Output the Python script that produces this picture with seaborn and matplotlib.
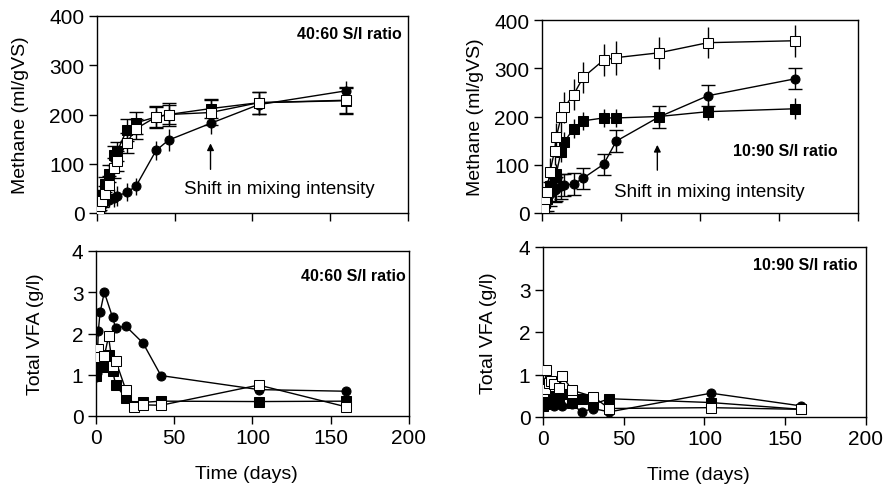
import matplotlib
matplotlib.use("Agg")
import matplotlib.pyplot as plt
import seaborn as sns

# methane yield, 40:60 S/I ratio
t_meth_a = [0, 1, 2, 3, 5, 8, 11, 13, 19, 25, 38, 46, 73, 104, 160]
meth_a_circle = [2, 6, 12, 18, 22, 27, 31, 34, 42, 54, 127, 148, 182, 220, 248]
meth_a_fsq = [2, 9, 22, 35, 58, 80, 117, 125, 168, 183, 195, 200, 212, 224, 228]
meth_a_osq = [2, 6, 15, 25, 39, 57, 92, 105, 142, 171, 195, 200, 204, 224, 229]
err_a_circle = [3, 5, 8, 10, 12, 15, 18, 20, 18, 18, 20, 22, 22, 22, 20]
err_a_fsq = [3, 5, 8, 12, 15, 18, 20, 20, 22, 22, 20, 20, 20, 22, 25]
err_a_osq = [3, 5, 8, 12, 15, 18, 20, 20, 20, 20, 22, 23, 25, 22, 27]

# methane yield, 10:90 S/I ratio
t_meth_b = [0, 1, 2, 3, 5, 8, 9, 12, 14, 20, 26, 39, 47, 74, 105, 160]
meth_b_circle = [1, 6, 15, 25, 40, 48, 50, 55, 58, 60, 72, 101, 149, 199, 243, 278]
meth_b_fsq = [1, 8, 20, 30, 55, 75, 81, 126, 147, 175, 191, 197, 197, 200, 210, 216]
meth_b_osq = [2, 10, 28, 43, 85, 129, 157, 198, 219, 245, 281, 317, 322, 332, 353, 357]
err_b_circle = [3, 8, 15, 20, 25, 25, 25, 25, 22, 22, 22, 22, 22, 22, 22, 22]
err_b_fsq = [3, 8, 15, 20, 20, 20, 20, 20, 20, 20, 18, 18, 18, 18, 18, 22]
err_b_osq = [3, 10, 20, 25, 30, 30, 30, 32, 32, 32, 32, 33, 35, 33, 32, 33]

# total VFA, 40:60 S/I ratio
t_vfa_a_circle = [0, 0.5, 1.5, 2.6, 5.3, 10.6, 12.6, 19, 30, 41.5, 104, 160]
vfa_a_circle = [0.95, 1.05, 2.07, 2.51, 3.0, 2.39, 2.13, 2.18, 1.77, 0.98, 0.64, 0.60]
t_vfa_a_fsq = [0, 1.5, 5.3, 8, 10.6, 12.6, 19, 24.5, 30, 41.5, 104, 160]
vfa_a_fsq = [0.98, 1.2, 1.18, 1.48, 1.1, 0.75, 0.44, 0.24, 0.33, 0.36, 0.35, 0.36]
t_vfa_a_osq = [0, 1.1, 2.6, 5.3, 8, 10.6, 12.6, 19, 24.5, 30, 41.5, 104, 160]
vfa_a_osq = [1.59, 1.62, 1.42, 1.45, 1.93, 1.22, 1.34, 0.64, 0.23, 0.27, 0.26, 0.75, 0.22]

# total VFA, 10:90 S/I ratio
t_vfa_b_osq = [0, 1, 2, 3.5, 5, 7, 10, 12, 18, 31, 41, 104, 160]
vfa_b_osq = [0.6, 0.65, 1.1, 0.8, 0.85, 0.77, 0.68, 0.97, 0.63, 0.48, 0.2, 0.22, 0.18]
t_vfa_b = [0, 1, 2, 5, 7, 10, 12, 18, 24, 31, 41, 104, 160]
vfa_b_fsq = [0.26, 0.3, 0.5, 0.45, 0.5, 0.45, 0.54, 0.34, 0.43, 0.3, 0.43, 0.34, 0.18]
vfa_b_circle = [0.54, 0.34, 0.45, 0.3, 0.26, 0.3, 0.26, 0.3, 0.12, 0.2, 0.12, 0.56, 0.26]

sns.set_style("ticks")
plt.rcParams['font.family'] = ['Liberation Sans', 'DejaVu Sans']
plt.rcParams['text.color'] = 'black'
plt.rcParams['axes.labelcolor'] = 'black'

W, H = 887, 485
fig = plt.figure(figsize=(W / 100, H / 100), dpi=100)


def box(l, t, r, b):
    return [l / W, (H - b) / H, (r - l) / W, (b - t) / H]


ax_tl = fig.add_axes(box(97, 17, 408, 214))
ax_tr = fig.add_axes(box(542, 21, 858, 214))
ax_bl = fig.add_axes(box(96, 252, 409, 417))
ax_br = fig.add_axes(box(543, 248, 866, 418))

circle = dict(marker='o', color='black', markerfacecolor='black', markeredgecolor='black', markersize=6.5)
fsq = dict(marker='s', color='black', markerfacecolor='black', markeredgecolor='black', markersize=6.5)
osq = dict(marker='s', color='black', markerfacecolor='white', markeredgecolor='black', markersize=7)


def series(ax, x, y, style, err=None, cap=0):
    if err is not None:
        ax.errorbar(x, y, yerr=err, fmt='none', ecolor='black', elinewidth=1, capsize=cap, capthick=1, zorder=2)
    sns.lineplot(x=x, y=y, ax=ax, linewidth=1, zorder=3, **style)


# top left
series(ax_tl, t_meth_a, meth_a_circle, circle, err_a_circle, 0)
series(ax_tl, t_meth_a, meth_a_fsq, fsq, err_a_fsq, 5)
series(ax_tl, t_meth_a, meth_a_osq, osq, err_a_osq, 5)
# top right
series(ax_tr, t_meth_b, meth_b_circle, circle, err_b_circle, 5)
series(ax_tr, t_meth_b, meth_b_fsq, fsq, err_b_fsq, 0)
series(ax_tr, t_meth_b, meth_b_osq, osq, err_b_osq, 0)
# bottom left
series(ax_bl, t_vfa_a_circle, vfa_a_circle, circle)
series(ax_bl, t_vfa_a_fsq, vfa_a_fsq, fsq)
series(ax_bl, t_vfa_a_osq, vfa_a_osq, osq)
# bottom right
series(ax_br, t_vfa_b, vfa_b_circle, circle)
series(ax_br, t_vfa_b, vfa_b_fsq, fsq)
series(ax_br, t_vfa_b_osq, vfa_b_osq, osq)

for ax in [ax_tl, ax_tr, ax_bl, ax_br]:
    ax.set_xlim(0, 200)
    ax.set_xticks([0, 50, 100, 150, 200])
    for s in ax.spines.values():
        s.set_visible(True)
        s.set_linewidth(1)
        s.set_color('black')
    ax.tick_params(direction='out', length=6, width=1, labelsize=15, colors='black', pad=3)
    ax.set_xlabel('')
    ax.set_ylabel('')

for ax in [ax_tl, ax_tr]:
    ax.set_ylim(0, 400)
    ax.set_yticks([0, 100, 200, 300, 400])
    ax.set_xticklabels([])
    ax.set_ylabel('Methane (ml/gVS)', fontsize=14)
    ax.annotate('', xy=(73, 147), xytext=(73, 83),
                arrowprops=dict(arrowstyle='-|>', color='black', lw=1, mutation_scale=10))

for ax in [ax_bl, ax_br]:
    ax.set_ylim(0, 4)
    ax.set_yticks([0, 1, 2, 3, 4])
    ax.set_ylabel('Total VFA (g/l)', fontsize=14)
    ax.set_xlabel('Time (days)', fontsize=14)

ax_tl.yaxis.set_label_coords(-0.219, 0.5)
ax_tr.yaxis.set_label_coords(-0.184, 0.5)
ax_bl.yaxis.set_label_coords(-0.166, 0.5)
ax_br.yaxis.set_label_coords(-0.142, 0.5)
ax_bl.xaxis.set_label_coords(0.48, -0.30)
ax_br.xaxis.set_label_coords(0.48, -0.29)

ax_tl.text(117, 49, 'Shift in mixing intensity', fontsize=13.5, ha='center', va='center')
ax_tr.text(105.6, 45, 'Shift in mixing intensity', fontsize=13.5, ha='center', va='center')

ax_tl.text(196, 365, '40:60 S/I ratio', fontsize=11.5, fontweight='bold', ha='right', va='center')
ax_tr.text(187, 129, '10:90 S/I ratio', fontsize=11.5, fontweight='bold', ha='right', va='center')
ax_bl.text(198, 3.4, '40:60 S/I ratio', fontsize=11.5, fontweight='bold', ha='right', va='center')
ax_br.text(195, 3.6, '10:90 S/I ratio', fontsize=11.5, fontweight='bold', ha='right', va='center')

fig.savefig('out.png', dpi=100)
